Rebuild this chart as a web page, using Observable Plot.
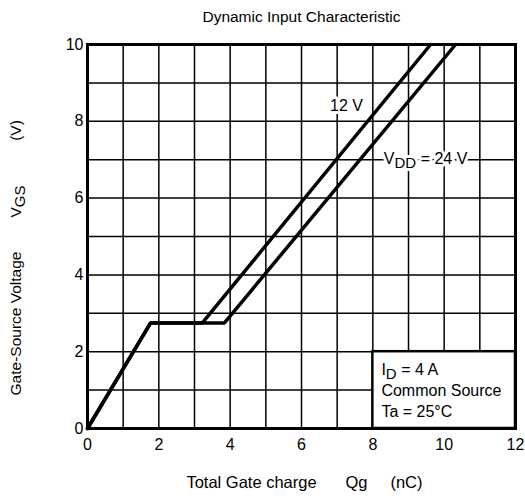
<!DOCTYPE html>
<html>
<head>
<meta charset="utf-8">
<script src="https://cdn.jsdelivr.net/npm/d3@7"></script>
<script src="https://cdn.jsdelivr.net/npm/@observablehq/plot@0.6"></script>
<style>
  html, body { margin: 0; padding: 0; background: #fff; }
  #chart { width: 525px; height: 499px; }
</style>
</head>
<body>
<div id="chart"></div>
<script>
// ---- data ----
const qg12 = [0, 1.77, 3.22, 9.62];     // Total gate charge (nC), VDD = 12 V
const vgs12 = [0, 2.75, 2.75, 10];      // Gate-source voltage (V)
const qg24 = [0, 1.77, 3.84, 10.32];    // Total gate charge (nC), VDD = 24 V
const vgs24 = [0, 2.75, 2.75, 10];
const xTicks = [0, 2, 4, 6, 8, 10, 12];
const yTicks = [0, 2, 4, 6, 8, 10];
const xGrid = [1, 2, 3, 4, 5, 6, 7, 8, 9, 10, 11];
const yGrid = [1, 2, 3, 4, 5, 6, 7, 8, 9];
const titleText = "Dynamic Input Characteristic";
const label12 = "12 V";
const label24 = "V_{DD} = 24 V";
const noteText = "I_{D} = 4 A\nCommon Source\nTa = 25°C";

const s12 = qg12.map((q, i) => ({q, v: vgs12[i]}));
const s24 = qg24.map((q, i) => ({q, v: vgs24[i]}));

const font = "'Liberation Sans', Arial, Helvetica, sans-serif";

const plot = Plot.plot({
  width: 525,
  height: 499,
  marginLeft: 87,
  marginRight: 10,
  marginTop: 44,
  marginBottom: 71,
  style: {fontFamily: font, fontSize: "16px", background: "white", color: "black"},
  x: {domain: [0, 12], ticks: xTicks, tickSize: 0, tickPadding: 10, label: null},
  y: {domain: [0, 10], ticks: yTicks, tickSize: 0, tickPadding: 4, label: null},
  marks: [
    Plot.ruleX(xGrid, {stroke: "black", strokeWidth: 1.5}),
    Plot.ruleY(yGrid, {stroke: "black", strokeWidth: 1.5}),
    Plot.rect([{}], {x1: 8, x2: 12, y1: 0, y2: 2, fill: "white", stroke: "black", strokeWidth: 2.5}),
    Plot.line(s12, {x: "q", y: "v", stroke: "black", strokeWidth: 3.5, strokeLinejoin: "miter"}),
    Plot.line(s24, {x: "q", y: "v", stroke: "black", strokeWidth: 3.5, strokeLinejoin: "miter"}),
    Plot.text([label12], {x: 7.26, y: 8.41, text: d => d, fill: "black", stroke: "white", strokeWidth: 6, fontSize: 16}),
    Plot.text([label24], {x: 9.48, y: 7.03, text: d => d, fill: "black", stroke: "white", strokeWidth: 6, fontSize: 16}),
    Plot.text([noteText], {x: 8.24, y: 1.03, text: d => d, textAnchor: "start", lineAnchor: "middle", lineHeight: 1.31, fill: "black", fontSize: 16}),
    Plot.frame({stroke: "black", strokeWidth: 3}),
    // title and axis labels
    Plot.text([titleText], {frameAnchor: "top", dy: -27, text: d => d, fontSize: 15.5, lineAnchor: "middle"}),
    Plot.text(["Total Gate charge"], {frameAnchor: "bottom", dx: -50, dy: 54, text: d => d, fontSize: 16.5, lineAnchor: "middle"}),
    Plot.text(["Qg"], {frameAnchor: "bottom", dx: 55, dy: 54, text: d => d, fontSize: 16.5, lineAnchor: "middle"}),
    Plot.text(["(nC)"], {frameAnchor: "bottom", dx: 105, dy: 54, text: d => d, fontSize: 16.5, lineAnchor: "middle"}),
    Plot.text(["Gate-Source Voltage"], {frameAnchor: "left", dx: -71, dy: 87, rotate: -90, textAnchor: "middle", text: d => d, fontSize: 15.5, lineAnchor: "middle"}),
    Plot.text(["V_{GS}"], {frameAnchor: "left", dx: -71, dy: -35, rotate: -90, textAnchor: "middle", text: d => d, fontSize: 15.5, lineAnchor: "middle"}),
    Plot.text(["(V)"], {frameAnchor: "left", dx: -71, dy: -106, rotate: -90, textAnchor: "middle", text: d => d, fontSize: 15.5, lineAnchor: "middle"})
  ]
});

// subscript post-processing: "_{...}" -> lowered tspan
function subscriptify(node) {
  const s = node.textContent;
  if (!s.includes("_{")) return;
  const parts = s.split(/(_\{[^}]*\})/).filter(p => p.length);
  while (node.firstChild) node.removeChild(node.firstChild);
  let shifted = false;
  for (const p of parts) {
    const t = document.createElementNS("http://www.w3.org/2000/svg", "tspan");
    if (p.startsWith("_{")) {
      t.textContent = p.slice(2, -1);
      t.setAttribute("dy", "4");
      t.setAttribute("font-size", "15");
      shifted = true;
    } else {
      t.textContent = p;
      if (shifted) { t.setAttribute("dy", "-4"); shifted = false; }
    }
    node.appendChild(t);
  }
}
d3.select(plot).selectAll("text").each(function() {
  const tspans = this.querySelectorAll("tspan");
  if (tspans.length) tspans.forEach(subscriptify);
  else subscriptify(this);
});

document.getElementById("chart").appendChild(plot);
</script>
</body>
</html>
